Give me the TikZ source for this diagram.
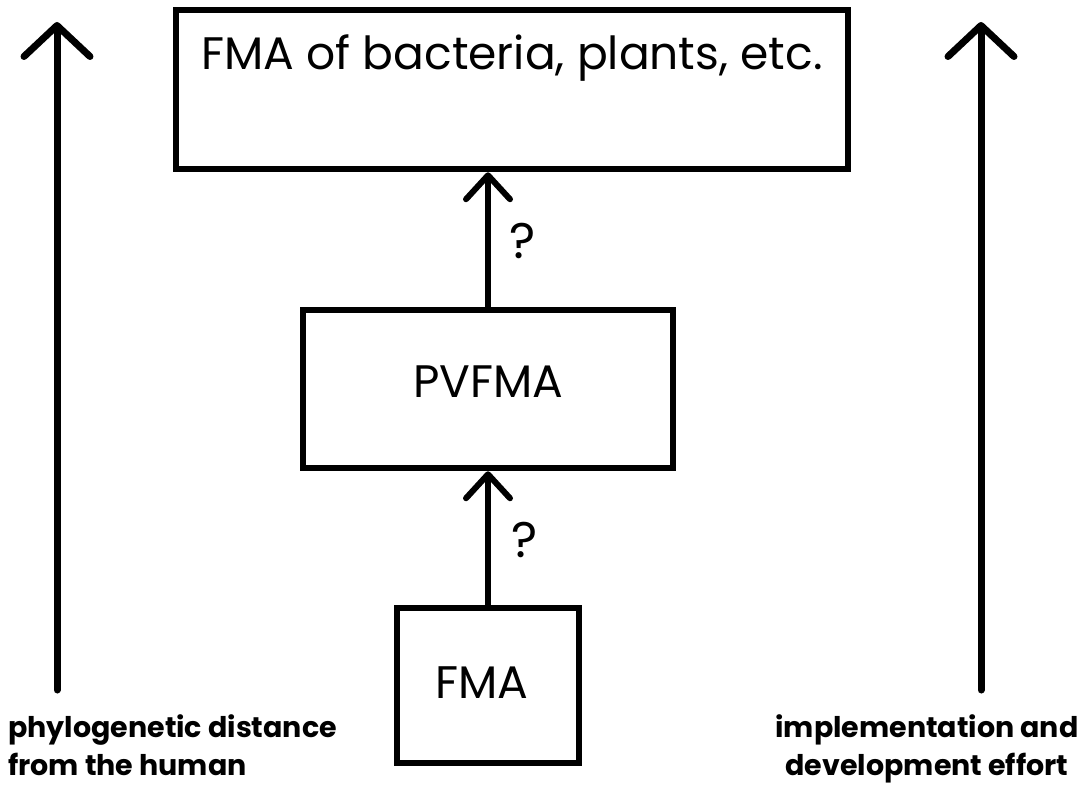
\documentclass[tikz,border=0pt]{standalone}
\usepackage{fontspec}
\setmainfont{Poppins}
\usetikzlibrary{arrows.meta}
\newcommand{\fitw}[2]{\resizebox{#1}{!}{#2}}
\begin{document}
\begin{tikzpicture}[x=1pt,y=-1pt,
  box/.style={draw=black,line width=6.5pt,inner sep=0pt,rectangle},
  link/.style={line width=6pt,line cap=round,
    -{Straight Barb[length=24pt,width=44pt,round]}},
  axis/.style={line width=7pt,line cap=round,
    -{Straight Barb[length=31pt,width=66pt,round]}},
  word/.style={inner sep=0pt,anchor=base},
  note/.style={inner sep=0pt,font=\bfseries\fontsize{28.5}{32}\selectfont}]
  \useasboundingbox (0,0) rectangle (1086,800);

  % boxes
  \node[box,minimum width=672pt,minimum height=159pt] (top) at (512,89.5) {};
  \node[box,minimum width=370pt,minimum height=158pt] (pv) at (488,389) {};
  \node[box,minimum width=182pt,minimum height=155pt] (fma) at (488,685.5) {};

  % box texts
  \node[word] (ttop) at (512,70) {\fitw{621pt}{FMA of bacteria, plants, etc.}};
  \node[word] (tpv) at (488,397) {\fitw{150pt}{PVFMA}};
  \node[word] (tfma) at (482,698) {\fitw{93pt}{FMA}};

  % connectors between the boxes
  \draw[link] (fma.north) -- (fma.north |- pv.south);
  \draw[link] (pv.north) -- (pv.north |- top.south);
  \node[word,font=\fontsize{50}{54}\selectfont] (q1) at (523,258) {?};
  \node[word,font=\fontsize{50}{54}\selectfont] (q2) at (525,557) {?};

  % side axes
  \coordinate (l0) at (57,690);
  \coordinate (l1) at (57,22);
  \coordinate (r0) at (981,690);
  \coordinate (r1) at (981,22);
  \draw[axis] (l0) -- (l1);
  \draw[axis] (r0) -- (r1);

  % axis captions
  \node[note,anchor=base west] (la) at (8,737) {phylogenetic distance};
  \node[note,anchor=base west] (lb) at (8,775) {from the human};
  \node[note,anchor=base] (ra) at (927,737) {implementation and};
  \node[note,anchor=base] (rb) at (927,775) {development effort};
\end{tikzpicture}
\end{document}
